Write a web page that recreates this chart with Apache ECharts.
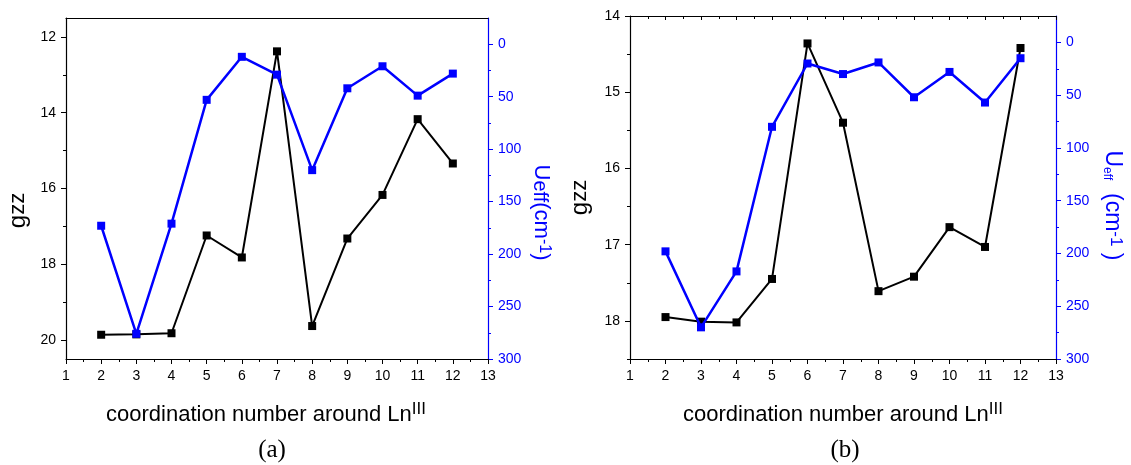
<!DOCTYPE html>
<html>
<head>
<meta charset="utf-8">
<script src="https://cdn.jsdelivr.net/npm/echarts@6/dist/echarts.min.js"></script>
<style>
html,body{margin:0;padding:0;background:#fff;}
#c{width:1131px;height:465px;}
</style>
</head>
<body>
<div id="c"></div>
<script>
// ---- data ----
var coordNumbers = [2, 3, 4, 5, 6, 7, 8, 9, 10, 11, 12];
var gzzA  = [19.86, 19.85, 19.82, 17.24, 17.82, 12.38, 19.63, 17.32, 16.17, 14.17, 15.34];
var ueffA = [173, 276, 171, 53, 12, 29, 120, 42, 21, 49, 28];
var gzzB  = [17.95, 18.01, 18.02, 17.45, 14.36, 15.40, 17.61, 17.42, 16.77, 17.03, 14.42];
var ueffB = [198, 270, 217, 80, 20, 30, 19, 52, 28, 57, 15];

var gzzTicksA = [12, 14, 16, 18, 20];
var gzzMinorA = [13, 15, 17, 19];
var gzzTicksB = [14, 15, 16, 17, 18];
var gzzMinorB = [14.5, 15.5, 16.5, 17.5, 18.5];
var ueffTicks = [0, 50, 100, 150, 200, 250, 300];
var ueffMinor = [25, 75, 125, 175, 225, 275];

function pairs(xs, ys) { return xs.map(function (x, i) { return [x, ys[i]]; }); }

var FONT = '"Liberation Sans", Arial, Helvetica, sans-serif';
var BLUE = '#0000ff';

function bottomX(gridIndex, padRight) {
  return {
    type: 'value', gridIndex: gridIndex, position: 'bottom',
    min: 1, max: 13, interval: 1,
    axisLine: { show: true, onZero: false, lineStyle: { color: '#000', width: 1.2 } },
    axisTick: { show: true, inside: false, length: 5, lineStyle: { color: '#000' } },
    minorTick: { show: true, splitNumber: 2, length: 3, lineStyle: { color: '#000' } },
    axisLabel: { show: true, color: '#000', fontSize: 14, fontFamily: FONT, margin: 10 },
    splitLine: { show: false },
    name: 'coordination number around Ln{sup|III}',
    nameLocation: 'middle', nameGap: 42,
    nameTextStyle: {
      color: '#000', fontSize: 22, fontFamily: FONT, padding: [0, padRight, 0, 0],
      rich: { sup: { fontSize: 17, fontFamily: FONT, color: '#000', verticalAlign: 'top', padding: [0, 0, 10, 0] } }
    }
  };
}
function topX(gridIndex, withTicks) {
  return {
    type: 'value', gridIndex: gridIndex, position: 'top',
    min: 1, max: 13, interval: 1,
    axisLine: { show: true, onZero: false, lineStyle: { color: '#000', width: 1.2 } },
    axisTick: { show: withTicks, inside: true, length: 4, lineStyle: { color: '#000' } },
    minorTick: { show: withTicks, splitNumber: 2, length: 3, lineStyle: { color: '#000' } },
    axisLabel: { show: false },
    splitLine: { show: false }
  };
}
function leftY(gridIndex, min, max, ticks, nameGap, shift) {
  return {
    type: 'value', gridIndex: gridIndex, position: 'left', inverse: true,
    min: min, max: max,
    axisLine: { show: true, onZero: false, lineStyle: { color: '#000', width: 1.2 } },
    axisTick: { show: true, length: 5, customValues: ticks, lineStyle: { color: '#000' } },
    axisLabel: { show: true, customValues: ticks, color: '#000', fontSize: 14, fontFamily: FONT, margin: 10 },
    splitLine: { show: false },
    name: 'g{z|zz}', nameLocation: 'middle', nameGap: nameGap,
    nameTextStyle: { color: '#000', fontSize: 24, fontFamily: FONT, padding: [0, shift, 0, 0],
      rich: { z: { fontSize: 22, fontFamily: FONT, color: '#000' } } }
  };
}
function minorY(gridIndex, position, min, max, ticks, color) {
  return {
    type: 'value', gridIndex: gridIndex, position: position, inverse: true,
    min: min, max: max, offset: 0,
    axisLine: { show: false, onZero: false },
    axisTick: { show: true, length: 3, customValues: ticks, lineStyle: { color: color } },
    axisLabel: { show: false },
    splitLine: { show: false }
  };
}
function rightY(gridIndex, name, rich, nameGap, shift) {
  return {
    type: 'value', gridIndex: gridIndex, position: 'right', inverse: true,
    min: -25, max: 300,
    axisLine: { show: true, onZero: false, lineStyle: { color: BLUE, width: 1.2 } },
    axisTick: { show: true, length: 5, customValues: ueffTicks, lineStyle: { color: BLUE } },
    axisLabel: { show: true, customValues: ueffTicks, color: BLUE, fontSize: 14, fontFamily: FONT, margin: 10 },
    splitLine: { show: false },
    name: name, nameLocation: 'middle', nameGap: nameGap, nameRotate: -90,
    nameTextStyle: { color: BLUE, fontSize: 22, fontFamily: FONT, padding: [0, 0, 0, shift], rich: rich }
  };
}

var richA = {
  n: { fontSize: 22, fontFamily: FONT, color: BLUE },
  s: { fontSize: 20, fontFamily: FONT, color: BLUE, verticalAlign: 'bottom' },
  sup: { fontSize: 16, fontFamily: FONT, color: BLUE, verticalAlign: 'top' }
};
var richB = {
  n: { fontSize: 23, fontFamily: FONT, color: BLUE },
  s: { fontSize: 12, fontFamily: FONT, color: BLUE, verticalAlign: 'bottom' },
  sup: { fontSize: 17, fontFamily: FONT, color: BLUE, verticalAlign: 'top' }
};

function lineSeries(xi, yi, data, color, width) {
  return {
    type: 'line', xAxisIndex: xi, yAxisIndex: yi, data: data,
    symbol: 'rect', symbolSize: 8, showSymbol: true,
    lineStyle: { color: color, width: width },
    itemStyle: { color: color },
    animation: false, z: color === BLUE ? 3 : 2
  };
}

var option = {
  animation: false,
  backgroundColor: '#fff',
  grid: [
    { left: 66, top: 18, width: 422, height: 341 },
    { left: 630, top: 16, width: 426, height: 343 }
  ],
  xAxis: [
    bottomX(0, 22), topX(0, false),
    bottomX(1, 0), topX(1, true)
  ],
  yAxis: [
    leftY(0, 11.5, 20.5, gzzTicksA, 36, 44),
    minorY(0, 'left', 11.5, 20.5, gzzMinorA, '#000'),
    rightY(0, '{n|U}{s|eff}{n|(cm}{sup|-1}{n|)}', richA, 42, 48),
    minorY(0, 'right', -25, 300, ueffMinor, BLUE),
    leftY(1, 14, 18.5, gzzTicksB, 38, 20),
    minorY(1, 'left', 14, 18.5, gzzMinorB, '#000'),
    rightY(1, '{n|U}{s|eff}{n|  (cm}{sup|-1}{n| )}', richB, 45, 36),
    minorY(1, 'right', -25, 300, ueffMinor, BLUE)
  ],
  series: [
    lineSeries(0, 0, pairs(coordNumbers, gzzA), '#000', 2),
    lineSeries(0, 2, pairs(coordNumbers, ueffA), BLUE, 2.5),
    lineSeries(2, 4, pairs(coordNumbers, gzzB), '#000', 2),
    lineSeries(2, 6, pairs(coordNumbers, ueffB), BLUE, 2.5)
  ],
  graphic: [
    { type: 'text', x: 272, y: 450, style: { text: '(a)', fill: '#000', font: '25px "Liberation Serif", "Times New Roman", serif', textAlign: 'center', textVerticalAlign: 'middle' } },
    { type: 'text', x: 845, y: 450, style: { text: '(b)', fill: '#000', font: '25px "Liberation Serif", "Times New Roman", serif', textAlign: 'center', textVerticalAlign: 'middle' } }
  ]
};

var chart = echarts.init(document.getElementById('c'), null, { renderer: 'canvas' });
chart.setOption(option);
</script>
</body>
</html>
